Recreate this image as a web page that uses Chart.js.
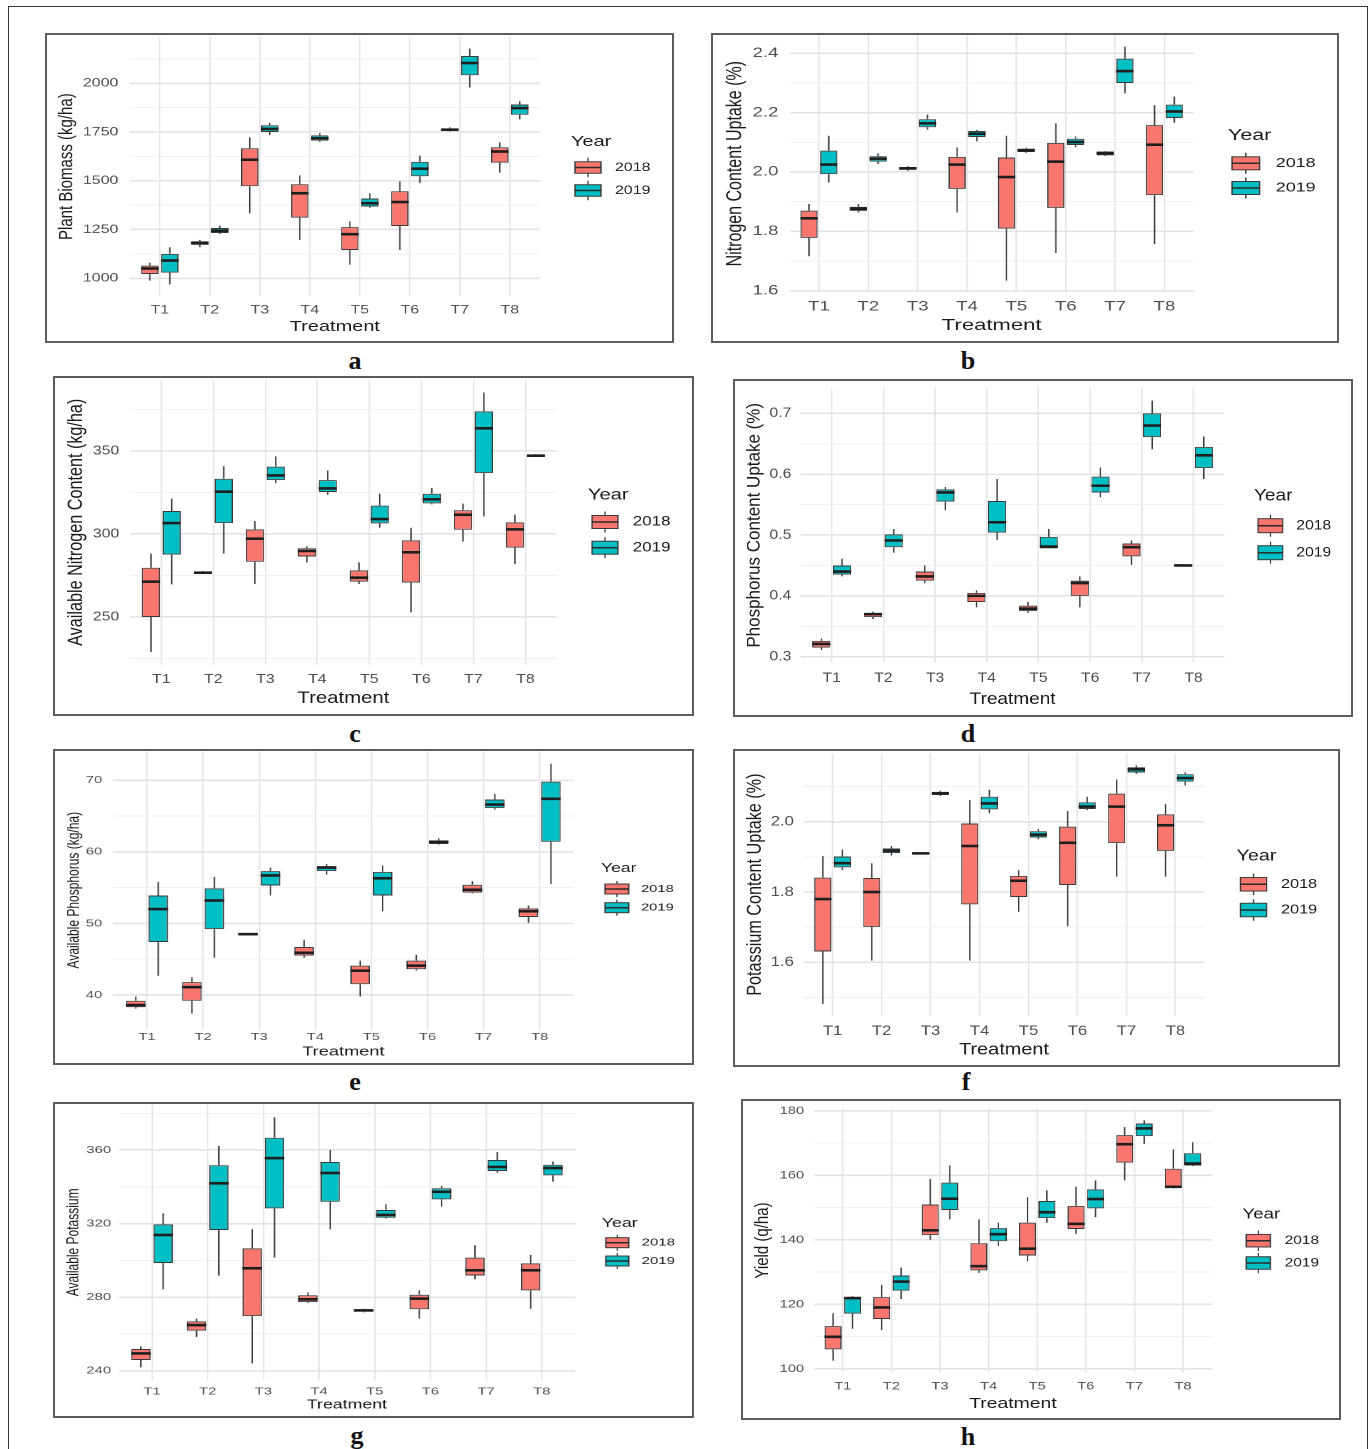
<!DOCTYPE html>
<html>
<head>
<meta charset="utf-8">
<script src="https://cdn.jsdelivr.net/npm/chart.js@4.4.1/dist/chart.umd.min.js"></script>
<style>
html, body { margin: 0; padding: 0; background: #fff; }
body { width: 1370px; height: 1449px; position: relative; overflow: hidden; }
#frame { position: absolute; left: 8px; top: 6px; width: 1360px; height: 1500px; border: 1px solid #3a3a3a; box-sizing: border-box; }
.panel { position: absolute; box-sizing: border-box; border: 2px solid #5c5c5c; overflow: hidden; background: #fff; }
.panel .wrap { position: absolute; left: 0; top: 0; transform-origin: 0 0; }
.tag { position: absolute; width: 40px; margin-left: -20px; text-align: center; font: bold 26px "Liberation Serif", "DejaVu Serif", serif; line-height: 1; color: #111; }
</style>
</head>
<body>
<div id="frame"></div>
<script>
// categories / groups
const treatments = ['T1', 'T2', 'T3', 'T4', 'T5', 'T6', 'T7', 'T8'];
const years = ['2018', '2019'];
const yearColors = ['#F8766D', '#00BFC4'];

// each entry: [min, Q1, median, Q3, max] for T1..T8
const biomass2018 = [[988,1022,1050,1065,1080],[1159,1171,1181,1190,1197],[1333,1472,1608,1667,1723],[1197,1311,1436,1482,1528],[1070,1145,1226,1262,1292],[1145,1268,1391,1446,1497],[1754,1757,1762,1769,1774],[1542,1593,1650,1672,1697]];
const biomass2019 = [[968,1029,1091,1125,1159],[1227,1232,1244,1258,1270],[1735,1750,1766,1785,1797],[1699,1706,1718,1733,1745],[1361,1368,1385,1409,1436],[1489,1523,1562,1597,1629],[1979,2041,2104,2140,2178],[1815,1839,1873,1891,1908]];

const nUptake2018 = [[1.716,1.778,1.844,1.870,1.892],[1.864,1.869,1.876,1.883,1.892],[2.004,2.008,2.012,2.017,2.020],[1.864,1.943,2.025,2.051,2.083],[1.634,1.809,1.983,2.049,2.122],[1.727,1.879,2.035,2.098,2.164],[2.054,2.056,2.063,2.069,2.070],[1.757,1.922,2.092,2.158,2.225]];
const nUptake2019 = [[1.965,1.993,2.025,2.072,2.122],[2.027,2.035,2.045,2.053,2.063],[2.143,2.151,2.164,2.178,2.194],[2.103,2.118,2.129,2.138,2.142],[2.064,2.067,2.073,2.079,2.082],[2.083,2.091,2.101,2.112,2.120],[2.265,2.300,2.340,2.382,2.422],[2.166,2.182,2.204,2.227,2.254]];

const availN2018 = [[228.9,250,271.3,279.7,288.2],[275.9,276.1,276.7,277.3,277.7],[270,283.3,297.2,302.8,307.8],[282.9,286.5,289.8,291.4,292.6],[269.9,271.3,273.7,278.1,282.9],[252.8,270.7,289,296.2,303.8],[295.4,302.6,311.6,314.3,318.3],[281.9,291.8,302.8,307,311.6]];
const availN2019 = [[269.7,287.6,306.6,313.9,321.3],[288.2,306.6,325.5,333.3,340.8],[330.7,332.5,335.3,340.6,346.8],[323.7,325.3,327.5,332.5,338.3],[303.8,306.4,309,317.1,324.3],[317.9,318.5,320.9,324.3,327.7],[310.6,336.7,363.7,373.9,385.3],[346.4,346.8,347.2,347.8,348.2]];

const pUptake2018 = [[0.311,0.315,0.321,0.326,0.330],[0.362,0.365,0.370,0.372,0.374],[0.421,0.425,0.432,0.440,0.450],[0.381,0.390,0.400,0.405,0.409],[0.372,0.375,0.379,0.384,0.390],[0.381,0.400,0.421,0.425,0.432],[0.451,0.465,0.480,0.486,0.491],[0.449,0.449,0.450,0.451,0.452]];
const pUptake2019 = [[0.432,0.435,0.440,0.450,0.461],[0.471,0.480,0.491,0.501,0.510],[0.541,0.555,0.570,0.575,0.579],[0.492,0.504,0.521,0.556,0.592],[0.478,0.478,0.481,0.497,0.510],[0.562,0.570,0.581,0.596,0.611],[0.641,0.661,0.680,0.700,0.721],[0.592,0.610,0.631,0.645,0.662]];

const availP2018 = [[38.1,38.3,38.6,39.2,39.8],[37.4,39.2,41.1,41.8,42.5],[48.4,48.45,48.5,48.55,48.6],[45.2,45.5,45.9,46.7,47.7],[39.8,41.5,43.4,44.1,44.8],[43.4,43.6,44.1,44.8,45.6],[54.2,54.3,54.7,55.4,55.9],[50.1,50.9,51.7,52.1,52.5]];
const availP2019 = [[42.7,47.4,52.0,53.9,55.8],[45.2,49.2,53.2,54.9,56.5],[53.9,55.3,56.7,57.3,57.8],[56.8,57.3,57.8,58.0,58.3],[51.7,53.9,56.3,57.2,58.1],[61.0,61.1,61.4,61.6,61.9],[65.9,66.1,66.6,67.3,68.1],[55.5,61.4,67.4,69.8,72.3]];

const kUptake2018 = [[1.482,1.631,1.780,1.841,1.902],[1.605,1.701,1.800,1.840,1.882],[1.907,1.908,1.910,1.911,1.912],[1.605,1.765,1.931,1.995,2.062],[1.744,1.786,1.832,1.846,1.862],[1.703,1.820,1.940,1.986,2.030],[1.844,1.939,2.043,2.080,2.120],[1.844,1.917,1.990,2.021,2.050]];
const kUptake2019 = [[1.863,1.870,1.882,1.901,1.921],[1.904,1.911,1.918,1.924,1.931],[2.073,2.076,2.081,2.085,2.088],[2.024,2.035,2.052,2.071,2.091],[1.950,1.955,1.963,1.973,1.979],[2.033,2.036,2.043,2.055,2.071],[2.136,2.140,2.149,2.155,2.160],[2.103,2.114,2.124,2.135,2.140]];

const availK2018 = [[241.8,245.8,249.4,251.8,253.2],[258.3,261.8,264.8,266.8,268.3],[244,269.7,295.7,306.5,316.9],[276.8,277.3,278.8,281,282.6],[271.7,272.1,272.8,273.4,273.7],[268.3,273.4,279.2,281.3,283.7],[289.7,291.8,294.6,301.5,308.2],[273.7,283.7,294.6,298.4,302.9]];
const availK2019 = [[284.2,298.6,313.8,319.6,325.6],[291.7,316.5,341.9,351.7,362.2],[301.5,328.3,355.6,366.7,377.8],[316.9,331.9,347.5,353.5,360],[322.7,323.2,324.7,327.4,330.5],[329.2,333.2,337.3,339.2,340.6],[347.7,348.6,350.8,354.6,358.9],[342.8,346.2,350.2,352,353.7]];

const yield2018 = [[102.5,106,109.9,113.2,117.2],[112,115.4,119,122.2,126],[140,141.4,142.9,150.9,158.8],[129.7,130.5,131.8,138.9,146.3],[133.3,135.1,137.2,145.3,153.2],[141.8,143.3,144.9,150.5,156.4],[158.4,163.9,169.6,172.4,174.9],[155.9,156.1,156.4,162,168]];
const yield2019 = [[112.4,117.1,121.9,122.2,122.5],[121.6,124.2,127,128.9,131.4],[146.3,149.2,152.7,157.7,163],[138.1,139.5,141.7,143.6,145.3],[145.2,146.7,148.5,152,155.3],[147,149.7,152.6,155.6,158.4],[169.7,172.1,174.5,176,177],[162.8,163,163.6,166.8,170.2]];

// panel layout (page pixels): border box, horizontal stretch, T1/T8 centres, plot top/bottom, axis range
const panels = [
  { tag: 'a', tagAt: [355, 368], yTitle: 'Plant Biomass (kg/ha)', series: [biomass2018, biomass2019],
    box: [45, 33, 629, 310], sx: 1.33, t1x: 159.8, t8x: 509.8, top: 37.1, bottom: 296.2,
    yMin: 908, yMax: 2237, step: 250, dec: 0, tickRight: 118.4, titleX: 66.9, xLabelY: 310, xTitleY: 327,
    leg: { yearX: 571, yearY: 142, keyL: 575, keyR: 601, keyY: [167.5, 190.5], keyH: 11.5, ext: 4, textX: 615 },
    font: { tick: 12, xTitle: 15, yTitle: 15, legTitle: 15, legText: 12 } },
  { tag: 'b', tagAt: [968, 368], yTitle: 'Nitrogen Content Uptake (%)', series: [nUptake2018, nUptake2019],
    box: [711, 33, 628, 310], sx: 1.38, t1x: 818.9, t8x: 1164.4, top: 35.1, bottom: 292.3,
    yMin: 1.5946, yMax: 2.4614, step: 0.2, dec: 1, tickRight: 778.5, titleX: 735.4, xLabelY: 306.7, xTitleY: 325.7,
    leg: { yearX: 1228, yearY: 135.7, keyL: 1232, keyR: 1259.6, keyY: [163.3, 188], keyH: 13, ext: 4, textX: 1275.7 },
    font: { tick: 13.5, xTitle: 16, yTitle: 16, legTitle: 15.5, legText: 13 } },
  { tag: 'c', tagAt: [355, 741], yTitle: 'Available Nitrogen Content (kg/ha)', series: [availN2018, availN2019],
    box: [53, 376, 641, 340], sx: 1.256, t1x: 161.3, t8x: 525.4, top: 379.5, bottom: 665,
    yMin: 221.1, yMax: 393.1, step: 50, dec: 0, tickRight: 119.3, titleX: 76.4, xLabelY: 679.3, xTitleY: 698.7,
    leg: { yearX: 587.9, yearY: 495.3, keyL: 592, keyR: 618, keyY: [522, 547.7], keyH: 13, ext: 4, textX: 632.8 },
    font: { tick: 12.6, xTitle: 16.2, yTitle: 16.2, legTitle: 16, legText: 13.5 } },
  { tag: 'd', tagAt: [968, 741], yTitle: 'Phosphorus Content Uptake (%)', series: [pUptake2018, pUptake2019],
    box: [733, 379, 620, 338], sx: 1.12, t1x: 831.7, t8x: 1193.5, top: 388.1, bottom: 662.5,
    yMin: 0.2905, yMax: 0.7415, step: 0.1, dec: 1, tickRight: 791.3, titleX: 754.6, xLabelY: 678.3, xTitleY: 699.3,
    leg: { yearX: 1254, yearY: 496, keyL: 1258, keyR: 1282.8, keyY: [525.7, 552.7], keyH: 14, ext: 4, textX: 1296.3 },
    font: { tick: 14, xTitle: 17, yTitle: 17, legTitle: 17, legText: 14 } },
  { tag: 'e', tagAt: [355, 1089], yTitle: 'Available Phosphorus (kg/ha)', series: [availP2018, availP2019],
    box: [53, 749, 641, 316], sx: 1.4, t1x: 147, t8x: 539.7, top: 750.8, bottom: 1029.4,
    yMin: 35.2, yMax: 74.08, step: 10, dec: 0, tickRight: 102.2, titleX: 74.4, xLabelY: 1037.3, xTitleY: 1051.7,
    leg: { yearX: 601, yearY: 868.3, keyL: 605, keyR: 628.7, keyY: [889, 907.7], keyH: 10, ext: 3, textX: 641 },
    font: { tick: 10.5, xTitle: 13, yTitle: 12, legTitle: 12.5, legText: 10.5 } },
  { tag: 'f', tagAt: [966, 1089], yTitle: 'Potassium Content Uptake (%)', series: [kUptake2018, kUptake2019],
    box: [733, 749, 607, 318], sx: 1.23, t1x: 832.6, t8x: 1175.4, top: 753.5, bottom: 1015.8,
    yMin: 1.448, yMax: 2.194, step: 0.2, dec: 1, tickRight: 793.9, titleX: 755.3, xLabelY: 1031, xTitleY: 1050,
    leg: { yearX: 1236.5, yearY: 856, keyL: 1240.4, keyR: 1266.7, keyY: [884.3, 910], keyH: 13.5, ext: 4, textX: 1281 },
    font: { tick: 13.6, xTitle: 16.2, yTitle: 16.2, legTitle: 16, legText: 13.2 } },
  { tag: 'g', tagAt: [357, 1443], yTitle: 'Available Potassium', series: [availK2018, availK2019],
    box: [53, 1102, 641, 316], sx: 1.42, t1x: 152, t8x: 541.8, top: 1104.8, bottom: 1379.9,
    yMin: 235, yMax: 384.6, step: 40, dec: 0, tickRight: 111.1, titleX: 73.6, xLabelY: 1391.7, xTitleY: 1405,
    leg: { yearX: 601.8, yearY: 1223.3, keyL: 605.8, keyR: 628.7, keyY: [1242.7, 1261], keyH: 10, ext: 3, textX: 641.7 },
    font: { tick: 10.5, xTitle: 12.5, yTitle: 12, legTitle: 12.5, legText: 10.5 } },
  { tag: 'h', tagAt: [968, 1444], yTitle: 'Yield (q/ha)', series: [yield2018, yield2019],
    box: [741, 1099, 600, 321], sx: 1.29, t1x: 842.8, t8x: 1183, top: 1108.4, bottom: 1372.6,
    yMin: 98.8, yMax: 180.7, step: 20, dec: 0, tickRight: 804.1, titleX: 763, xLabelY: 1386.3, xTitleY: 1404,
    leg: { yearX: 1242.4, yearY: 1214.7, keyL: 1246.2, keyR: 1270.4, keyY: [1240.7, 1263], keyH: 12.5, ext: 4, textX: 1284.6 },
    font: { tick: 11.4, xTitle: 15, yTitle: 15, legTitle: 14.5, legText: 12 } }
];

const FAMILY = "'Liberation Sans', Arial, sans-serif";
const TICK_COLOR = '#4d4d4d';
const TITLE_COLOR = '#1a1a1a';

function buildPanel(p) {
  const [L, T, W, H] = p.box;
  const div = document.createElement('div');
  div.className = 'panel';
  div.style.left = L + 'px';
  div.style.top = T + 'px';
  div.style.width = W + 'px';
  div.style.height = H + 'px';

  const cl = L + 2, ct = T + 2, cw = W - 4, ch = H - 4;
  const cvW = Math.round(cw / p.sx);   // logical canvas size (before the horizontal stretch)
  const cvH = ch;
  const canvas = document.createElement('canvas');
  canvas.width = cvW;
  canvas.height = cvH;
  const sx = cw / cvW;

  const wrap = document.createElement('div');
  wrap.className = 'wrap';
  wrap.style.transform = 'scaleX(' + sx + ')';
  wrap.appendChild(canvas);
  div.appendChild(wrap);
  document.body.appendChild(div);

  // page coords -> canvas coords
  const X = x => (x - cl) / sx;
  const Y = y => y - ct;

  const sp = (p.t8x - p.t1x) / 7;
  const areaL = X(p.t1x - 0.6 * sp);
  const areaR = X(p.t8x + 0.6 * sp);
  const areaT = Math.max(0, Y(p.top));
  const areaB = Y(p.bottom);

  const half = p.step / 2;
  const isMajor = v => Math.abs(v / p.step - Math.round(v / p.step)) < 1e-6;
  const yTicks = [];
  for (let k = Math.ceil(p.yMin / half - 1e-9); k * half <= p.yMax + 1e-9; k++) {
    yTicks.push(+(k * half).toFixed(6));
  }

  // whiskers + medians, drawn from the bar elements and the y scale
  const boxWhiskers = {
    id: 'boxWhiskers',
    afterDatasetsDraw(chart) {
      const ctx = chart.ctx;
      const y = chart.scales.y;
      ctx.save();
      chart.data.datasets.forEach((ds, j) => {
        chart.getDatasetMeta(j).data.forEach((bar, i) => {
          const [lo, q1, med, q3, hi] = ds.stats[i];
          const x = bar.x, hw = bar.width / 2;
          ctx.strokeStyle = '#3a3a3a';
          ctx.lineWidth = 1.4 / sx;
          ctx.beginPath();
          ctx.moveTo(x, y.getPixelForValue(hi));
          ctx.lineTo(x, y.getPixelForValue(q3));
          ctx.moveTo(x, y.getPixelForValue(q1));
          ctx.lineTo(x, y.getPixelForValue(lo));
          ctx.stroke();
          const ym = y.getPixelForValue(med);
          ctx.strokeStyle = '#1e1e1e';
          ctx.lineWidth = 2.6;
          ctx.beginPath();
          ctx.moveTo(x - hw, ym);
          ctx.lineTo(x + hw, ym);
          ctx.stroke();
        });
      });
      ctx.restore();
    }
  };

  // ggplot style "Year" legend with box-plot keys
  const yearKey = {
    id: 'yearKey',
    afterDraw(chart) {
      const ctx = chart.ctx;
      const lg = p.leg;
      ctx.save();
      ctx.textBaseline = 'middle';
      ctx.textAlign = 'left';
      ctx.fillStyle = TITLE_COLOR;
      ctx.font = p.font.legTitle + 'px ' + FAMILY;
      ctx.fillText('Year', X(lg.yearX), Y(lg.yearY));
      years.forEach((yr, j) => {
        const cy = Y(lg.keyY[j]);
        const x0 = X(lg.keyL), x1 = X(lg.keyR), xc = (x0 + x1) / 2;
        const h = lg.keyH;
        ctx.strokeStyle = '#3a3a3a';
        ctx.lineWidth = 1.3 / sx;
        ctx.beginPath();
        ctx.moveTo(xc, cy - h / 2 - lg.ext);
        ctx.lineTo(xc, cy + h / 2 + lg.ext);
        ctx.stroke();
        ctx.fillStyle = yearColors[j];
        ctx.fillRect(x0, cy - h / 2, x1 - x0, h);
        ctx.lineWidth = 1;
        ctx.strokeRect(x0, cy - h / 2, x1 - x0, h);
        ctx.strokeStyle = '#2a2a2a';
        ctx.lineWidth = 1.5;
        ctx.beginPath();
        ctx.moveTo(x0, cy);
        ctx.lineTo(x1, cy);
        ctx.stroke();
        ctx.fillStyle = TITLE_COLOR;
        ctx.font = p.font.legText + 'px ' + FAMILY;
        ctx.fillText(yr, X(lg.textX), cy);
      });
      ctx.restore();
    }
  };

  new Chart(canvas, {
    type: 'bar',
    data: {
      datasets: years.map((yr, j) => ({
        label: yr,
        data: p.series[j].map((s, i) => ({ x: i + 1, y: [s[1], s[3]] })),
        stats: p.series[j],
        backgroundColor: yearColors[j],
        borderColor: '#3a3a3a',
        borderWidth: 1,
        borderSkipped: false,
        categoryPercentage: 0.8,
        barPercentage: 0.875
      }))
    },
    options: {
      responsive: false,
      animation: false,
      devicePixelRatio: 2,
      layout: { padding: { top: areaT, right: cvW - areaR, left: 0, bottom: 0 } },
      plugins: {
        legend: { display: false },
        tooltip: { enabled: false }
      },
      scales: {
        x: {
          type: 'linear',
          min: 0.4,
          max: 8.6,
          offset: false,
          afterBuildTicks: s => { s.ticks = treatments.map((t, i) => ({ value: i + 1 })); },
          afterFit: s => { s.height = cvH - areaB; s.paddingLeft = 0; s.paddingRight = 0; },
          ticks: {
            autoSkip: false,
            maxRotation: 0,
            padding: Y(p.xLabelY) - areaB - 0.6 * p.font.tick,
            color: TICK_COLOR,
            font: { family: FAMILY, size: p.font.tick },
            callback: v => treatments[Math.round(v) - 1]
          },
          grid: { offset: false, drawTicks: false, color: '#e6e6e6', lineWidth: 1.6 / sx },
          border: { display: false },
          title: {
            display: true,
            text: 'Treatment',
            color: TITLE_COLOR,
            font: { family: FAMILY, size: p.font.xTitle },
            padding: { top: 0, bottom: cvH - Y(p.xTitleY) - 0.6 * p.font.xTitle }
          }
        },
        y: {
          type: 'linear',
          min: p.yMin,
          max: p.yMax,
          beginAtZero: false,
          afterBuildTicks: s => { s.ticks = yTicks.map(v => ({ value: v })); },
          afterFit: s => { s.width = areaL; s.paddingTop = 0; s.paddingBottom = 0; },
          ticks: {
            autoSkip: false,
            padding: areaL - X(p.tickRight),
            color: TICK_COLOR,
            font: { family: FAMILY, size: p.font.tick },
            callback: v => isMajor(v) ? Number(v).toFixed(p.dec) : ''
          },
          grid: {
            drawTicks: false,
            color: c => isMajor(c.tick.value) ? '#e4e4e4' : '#f1f1f1',
            lineWidth: c => isMajor(c.tick.value) ? 1.6 : 1
          },
          border: { display: false },
          title: {
            display: true,
            text: p.yTitle,
            color: TITLE_COLOR,
            font: { family: FAMILY, size: p.font.yTitle },
            padding: { top: X(p.titleX) - 0.6 * p.font.yTitle, bottom: 0 }
          }
        }
      }
    },
    plugins: [boxWhiskers, yearKey]
  });

  // panel letter under the plot
  const tag = document.createElement('div');
  tag.className = 'tag';
  tag.textContent = p.tag;
  tag.style.left = p.tagAt[0] + 'px';
  tag.style.top = (p.tagAt[1] - 20) + 'px';
  document.body.appendChild(tag);
}

panels.forEach(buildPanel);
</script>
</body>
</html>
